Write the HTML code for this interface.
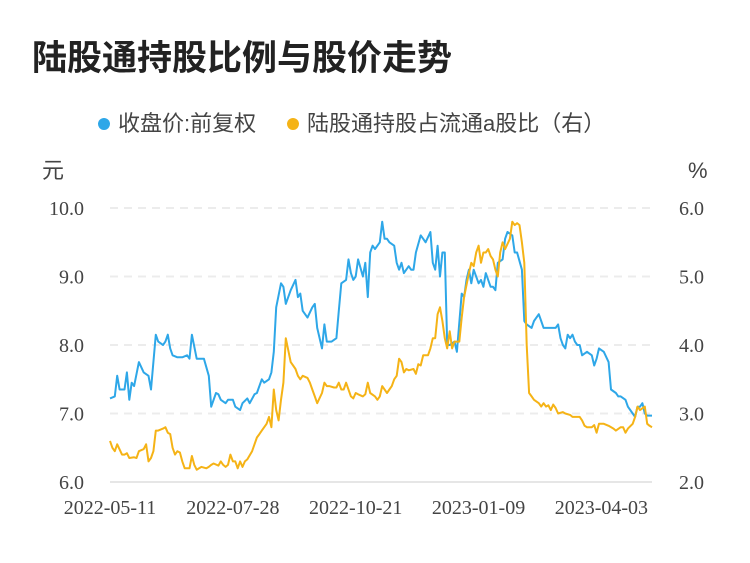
<!DOCTYPE html>
<html><head><meta charset="utf-8"><style>
body{margin:0;background:#fff;width:750px;height:558px;overflow:hidden;font-family:"Liberation Sans","Noto Sans CJK SC",sans-serif}
</style></head><body>
<svg width="750" height="558" xmlns="http://www.w3.org/2000/svg">
<text x="32" y="70" font-size="35" font-weight="bold" fill="#222" font-family="Liberation Sans,Noto Sans CJK SC,sans-serif">陆股通持股比例与股价走势</text>
<g font-size="22" fill="#444" font-family="Liberation Sans,Noto Sans CJK SC,sans-serif">
<g><circle cx="104" cy="124" r="6" fill="#2ea7e8"/><text x="118" y="131">收盘价:前复权</text></g>
<g><circle cx="293" cy="124" r="6" fill="#f5b316"/><text x="307" y="131">陆股通持股占流通a股比（右）</text></g>
</g>
<text x="42" y="178" font-size="22" fill="#444" font-family="Liberation Sans,Noto Sans CJK SC,sans-serif">元</text>
<text x="688" y="178" font-size="22" fill="#444">%</text>
<g id="grid"></g>
<g id="axes" font-family="Liberation Serif,serif" font-size="20" fill="#444"></g>
<g id="series"></g>
</svg>
<script>
const leftTicks=[6,7,8,9,10];
const rightTicks=[2,3,4,5,6];
const xTickLabels=["2022-05-11","2022-07-28","2022-10-21","2023-01-09","2023-04-03"];
const xTickDays=[0,51,102,153,204];
const priceDays=[0,2,3,4,6,7,8,9,10,12,14,16,17,19,20,22,23,24,25,26,28,30,32,33,34,36,37,39,41,42,44,45,46,48,49,51,52,54,55,57,58,60,61,63,64,66,67,68,69,71,72,73,75,77,78,79,80,82,84,85,86,88,89,90,92,94,95,96,98,99,100,101,102,103,105,106,107,108,109,110,112,113,114,115,116,118,119,120,121,122,124,125,126,127,129,130,131,133,134,135,136,137,138,139,140,141,143,144,146,147,148,149,150,151,153,154,155,156,158,159,160,161,163,164,165,167,168,169,171,172,173,175,176,178,179,180,182,184,185,186,187,188,189,190,191,192,193,194,195,196,198,200,201,202,203,205,207,208,210,211,212,214,215,217,218,219,220,221,222,223,225];
const priceValues=[7.22,7.25,7.55,7.35,7.35,7.6,7.2,7.45,7.4,7.75,7.6,7.55,7.35,8.15,8.05,8.0,8.05,8.15,7.95,7.85,7.82,7.82,7.85,7.8,8.15,7.8,7.8,7.8,7.55,7.1,7.3,7.28,7.2,7.15,7.2,7.2,7.1,7.05,7.15,7.22,7.15,7.28,7.3,7.5,7.45,7.5,7.6,7.9,8.55,8.9,8.85,8.6,8.8,8.95,8.7,8.75,8.5,8.4,8.55,8.6,8.25,7.95,8.3,8.05,8.05,8.1,8.5,8.9,8.95,9.25,9.05,8.95,9.0,9.25,9.0,9.2,8.7,9.35,9.45,9.4,9.5,9.8,9.55,9.55,9.5,9.45,9.2,9.1,9.2,9.05,9.15,9.1,9.1,9.35,9.6,9.55,9.5,9.65,9.2,9.1,9.45,9.0,9.35,9.35,8.0,8.0,8.05,7.9,8.75,8.7,8.95,9.1,8.9,9.1,8.9,8.95,8.85,9.05,8.85,8.85,8.8,9.2,9.25,9.55,9.65,9.6,9.35,9.35,9.1,8.35,8.3,8.25,8.35,8.45,8.35,8.25,8.25,8.25,8.25,8.3,8.1,8.0,7.95,8.15,8.1,8.15,8.05,8.0,8.0,7.85,7.9,7.85,7.7,7.8,7.95,7.9,7.75,7.35,7.3,7.25,7.25,7.2,7.1,7.0,6.95,7.1,7.1,7.15,7.0,6.97,6.97];
const holdDays=[0,1,2,3,5,6,7,8,10,11,12,14,15,16,17,18,19,20,22,23,24,25,26,27,28,29,30,31,33,34,35,36,37,38,40,41,42,43,45,46,47,48,49,50,51,52,53,54,55,56,57,59,60,61,62,63,65,66,67,68,69,70,71,72,73,75,76,77,78,79,80,82,83,84,85,86,88,89,90,91,93,94,95,96,97,98,100,101,102,103,105,106,107,108,110,111,112,113,115,116,117,118,119,120,121,122,123,124,126,127,128,129,130,132,133,134,135,136,137,138,139,140,141,142,143,144,145,146,147,149,150,151,152,153,154,155,156,157,158,159,160,161,162,163,164,166,167,168,169,170,171,172,173,174,175,176,178,179,180,181,182,183,184,185,186,188,189,191,192,193,195,196,197,198,200,201,202,203,204,205,207,209,210,212,213,214,215,217,218,219,220,222,223,224,225];
const holdValues=[2.6,2.5,2.45,2.55,2.4,2.4,2.42,2.35,2.36,2.35,2.45,2.48,2.55,2.3,2.35,2.45,2.75,2.75,2.78,2.8,2.72,2.7,2.5,2.4,2.45,2.43,2.3,2.2,2.2,2.38,2.25,2.18,2.2,2.22,2.2,2.22,2.25,2.27,2.24,2.3,2.25,2.22,2.25,2.4,2.3,2.3,2.2,2.3,2.22,2.3,2.33,2.45,2.55,2.65,2.7,2.75,2.85,2.95,2.8,3.35,3.05,2.9,3.2,3.45,4.1,3.75,3.7,3.65,3.55,3.5,3.55,3.52,3.45,3.35,3.25,3.15,3.3,3.45,3.4,3.4,3.38,3.38,3.45,3.35,3.35,3.45,3.25,3.22,3.3,3.28,3.25,3.28,3.45,3.3,3.25,3.2,3.25,3.4,3.3,3.35,3.4,3.5,3.55,3.8,3.75,3.6,3.65,3.63,3.65,3.58,3.72,3.7,3.85,3.85,3.95,4.1,4.1,4.45,4.55,4.35,4.1,3.95,4.2,3.95,4.05,4.05,4.05,4.4,4.7,5.05,5.2,5.15,5.35,5.45,5.2,5.35,5.35,5.4,5.3,5.25,5.1,5.0,5.35,5.5,5.4,5.55,5.8,5.75,5.78,5.75,5.5,5.2,4.0,3.3,3.25,3.2,3.15,3.1,3.15,3.1,3.12,3.05,3.13,3.08,3.0,3.02,3.0,2.98,2.95,2.95,2.95,2.9,2.82,2.8,2.8,2.83,2.72,2.85,2.85,2.85,2.82,2.78,2.75,2.8,2.8,2.72,2.78,2.85,2.95,3.1,3.05,3.1,2.85,2.82,2.8];

const X0=110,X1=652,Y0=482,Y1=208,MAXDAY=225;
function xScale(d){return X0+(X1-X0)*d/MAXDAY;}
function yLeft(v){return Y0-(v-6)/(10-6)*(Y0-Y1);}
function yRight(v){return Y0-(v-2)/(6-2)*(Y0-Y1);}
const NS="http://www.w3.org/2000/svg";
const grid=document.getElementById('grid'),axes=document.getElementById('axes'),series=document.getElementById('series');
leftTicks.forEach((t,i)=>{
  const y=yLeft(t);
  const ln=document.createElementNS(NS,'line');
  ln.setAttribute('x1',X0);ln.setAttribute('x2',X1);ln.setAttribute('y1',y);ln.setAttribute('y2',y);
  if(i===0){ln.setAttribute('stroke','#e6e6e6');ln.setAttribute('stroke-width','2');}
  else{ln.setAttribute('stroke','#ececec');ln.setAttribute('stroke-width','2');ln.setAttribute('stroke-dasharray','8,6');}
  
  
  grid.appendChild(ln);
  const tl=document.createElementNS(NS,'text');
  tl.setAttribute('x',84);tl.setAttribute('y',y+7);tl.setAttribute('text-anchor','end');
  tl.textContent=t.toFixed(1);
  
  
  axes.appendChild(tl);
});
rightTicks.forEach(t=>{
  const tr=document.createElementNS(NS,'text');
  tr.setAttribute('x',679);tr.setAttribute('y',yRight(t)+7);
  tr.textContent=t.toFixed(1);
  
  
  axes.appendChild(tr);
});
xTickLabels.forEach((lab,i)=>{
  const tx=document.createElementNS(NS,'text');
  tx.setAttribute('x',xScale(xTickDays[i]));tx.setAttribute('y',514);tx.setAttribute('text-anchor','middle');
  tx.textContent=lab;
  
  
  axes.appendChild(tx);
});
function line(days,vals,ys,color,name){
  const p=document.createElementNS(NS,'polyline');
  p.setAttribute('points',days.map((d,i)=>xScale(d).toFixed(1)+','+ys(vals[i]).toFixed(1)).join(' '));
  p.setAttribute('fill','none');p.setAttribute('stroke',color);p.setAttribute('stroke-width','2');p.setAttribute('stroke-linejoin','round');
  
  
  series.appendChild(p);
}
line(priceDays,priceValues,yLeft,'#2ea7e8','price-line');
line(holdDays,holdValues,yRight,'#f5b316','holding-ratio-line');
</script>
</body></html>
